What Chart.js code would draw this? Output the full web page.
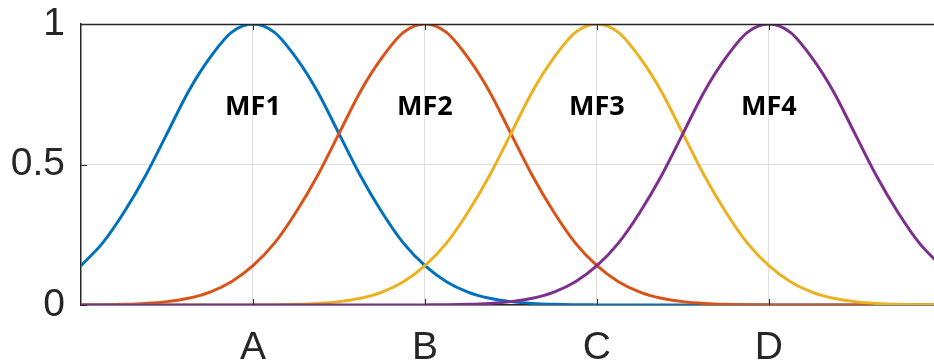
<!DOCTYPE html>
<html>
<head>
<meta charset="utf-8">
<script src="https://cdn.jsdelivr.net/npm/chart.js@4"></script>
<style>
  html, body { margin: 0; padding: 0; background: #fff; }
  #wrap { width: 934px; height: 362px; }
</style>
</head>
<body>
<div id="wrap"><canvas id="mfChart"></canvas></div>
<script>
// x positions (A=1, B=2, C=3, D=4), step 0.125
const xs = [0, 0.125, 0.25, 0.375, 0.5, 0.625, 0.75, 0.875, 1, 1.125, 1.25, 1.375, 1.5, 1.625, 1.75, 1.875,
            2, 2.125, 2.25, 2.375, 2.5, 2.625, 2.75, 2.875, 3, 3.125, 3.25, 3.375, 3.5, 3.625, 3.75, 3.875,
            4, 4.125, 4.25, 4.375, 4.5, 4.625, 4.75, 4.875, 5];
// membership values
const mf1 = [0.14, 0.22, 0.33, 0.46, 0.61, 0.76, 0.88, 0.97, 1, 0.97, 0.88, 0.76, 0.61, 0.46, 0.33, 0.22,
             0.14, 0.083, 0.046, 0.024, 0.012, 0.0056, 0.0024, 0.001, 0.0004, 0, 0, 0, 0, 0, 0, 0,
             0, 0, 0, 0, 0, 0, 0, 0, 0];
const mf2 = [0.0004, 0.001, 0.0024, 0.0056, 0.012, 0.024, 0.046, 0.083, 0.14, 0.22, 0.33, 0.46, 0.61, 0.76, 0.88, 0.97,
             1, 0.97, 0.88, 0.76, 0.61, 0.46, 0.33, 0.22, 0.14, 0.083, 0.046, 0.024, 0.012, 0.0056, 0.0024, 0.001,
             0.0004, 0, 0, 0, 0, 0, 0, 0, 0];
const mf3 = [0, 0, 0, 0, 0, 0, 0, 0, 0.0004, 0.001, 0.0024, 0.0056, 0.012, 0.024, 0.046, 0.083,
             0.14, 0.22, 0.33, 0.46, 0.61, 0.76, 0.88, 0.97, 1, 0.97, 0.88, 0.76, 0.61, 0.46, 0.33, 0.22,
             0.14, 0.083, 0.046, 0.024, 0.012, 0.0056, 0.0024, 0.001, 0.0004];
const mf4 = [0, 0, 0, 0, 0, 0, 0, 0, 0, 0, 0, 0, 0, 0, 0, 0,
             0.0004, 0.001, 0.0024, 0.0056, 0.012, 0.024, 0.046, 0.083, 0.14, 0.22, 0.33, 0.46, 0.61, 0.76, 0.88, 0.97,
             1, 0.97, 0.88, 0.76, 0.61, 0.46, 0.33, 0.22, 0.14];
const seriesNames = ['MF1', 'MF2', 'MF3', 'MF4'];
const seriesColors = ['#0072BD', '#D95319', '#EDB120', '#7E2F8E'];
const xTickLabels = ['A', 'B', 'C', 'D'];
const xTickValues = [1, 2, 3, 4];
const yTickValues = [0, 0.5, 1];
const labelY = 0.705;

const allSeries = [mf1, mf2, mf3, mf4];

// MF labels, top border and inner tick marks
const mfLabels = {
  id: 'mfLabels',
  afterDatasetsDraw(chart) {
    const { ctx, chartArea, scales } = chart;
    ctx.save();
    ctx.strokeStyle = '#262626';
    ctx.lineWidth = 1.5;
    ctx.beginPath();
    ctx.moveTo(chartArea.left, chartArea.top + 0.5);
    ctx.lineTo(chartArea.right, chartArea.top + 0.5);
    ctx.stroke();
    ctx.lineWidth = 1;
    xTickValues.forEach(v => {
      const px = Math.round(scales.x.getPixelForValue(v)) + 0.5;
      ctx.beginPath();
      ctx.moveTo(px, chartArea.bottom);
      ctx.lineTo(px, chartArea.bottom - 6);
      ctx.moveTo(px, chartArea.top);
      ctx.lineTo(px, chartArea.top + 6);
      ctx.stroke();
    });
    yTickValues.forEach(v => {
      const py = Math.round(scales.y.getPixelForValue(v)) + 0.5;
      ctx.beginPath();
      ctx.moveTo(chartArea.left, py);
      ctx.lineTo(chartArea.left + 6, py);
      ctx.stroke();
    });
    ctx.fillStyle = '#000';
    ctx.font = 'bold 27px "Noto Sans"';
    ctx.textAlign = 'center';
    ctx.textBaseline = 'middle';
    seriesNames.forEach((name, i) => {
      ctx.fillText(name, scales.x.getPixelForValue(xTickValues[i]), scales.y.getPixelForValue(labelY));
    });
    ctx.restore();
  }
};

const ctx = document.getElementById('mfChart').getContext('2d');
new Chart(ctx, {
  type: 'line',
  data: {
    datasets: allSeries.map((vals, i) => ({
      label: seriesNames[i],
      data: xs.map((x, j) => ({ x: x, y: vals[j] })),
      borderColor: seriesColors[i],
      borderWidth: 3,
      pointRadius: 0,
      fill: false,
      cubicInterpolationMode: 'monotone',
      order: 3 - i
    }))
  },
  options: {
    responsive: true,
    maintainAspectRatio: false,
    animation: false,
    layout: { padding: { top: 24, right: 0, left: 0, bottom: 0 } },
    plugins: { legend: { display: false }, tooltip: { enabled: false } },
    scales: {
      x: {
        type: 'linear',
        min: 0,
        max: 4.96,
        afterBuildTicks(scale) { scale.ticks = xTickValues.map(v => ({ value: v })); },
        afterFit(scale) {
          scale.height = 57;
          scale.paddingLeft = 0;
          scale.paddingRight = 0;
        },
        grid: { color: '#dedede', drawTicks: false },
        border: { color: '#262626', width: 1.5 },
        ticks: {
          padding: 20,
          color: '#262626',
          font: { family: '"Liberation Sans"', size: 39 },
          callback: (v) => xTickLabels[xTickValues.indexOf(v)] || ''
        }
      },
      y: {
        min: 0,
        max: 1,
        afterBuildTicks(scale) { scale.ticks = yTickValues.map(v => ({ value: v })); },
        afterFit(scale) {
          scale.width = 81;
          scale.paddingTop = 0;
          scale.paddingBottom = 0;
        },
        grid: { color: '#dedede', drawTicks: false },
        border: { color: '#262626', width: 1.5 },
        ticks: {
          padding: 16,
          color: '#262626',
          font: { family: '"Liberation Sans"', size: 39 },
          callback: (v) => String(v)
        }
      }
    }
  },
  plugins: [mfLabels]
});
</script>
</body>
</html>
